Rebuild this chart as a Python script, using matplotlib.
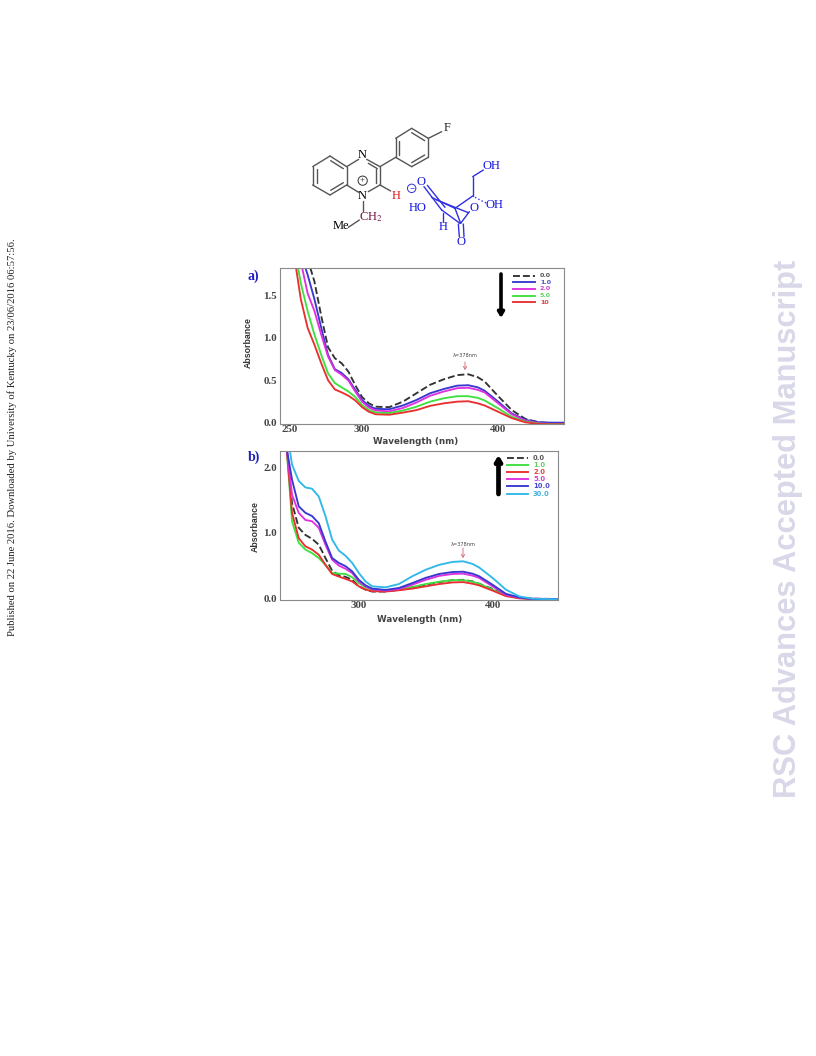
import matplotlib
matplotlib.use("Agg")
import matplotlib.pyplot as plt
from matplotlib.patches import Circle
from matplotlib.ticker import FormatStrFormatter
from matplotlib.transforms import ScaledTranslation

# ---- panel a) data ----
a_wl_common = [300, 305, 310, 320, 330, 340, 350, 360, 370, 378, 385, 390, 400, 410, 420, 430, 440, 448]

a00_wl = [262, 265, 270, 275, 280, 285, 290, 295] + a_wl_common
a00 = [1.83, 1.67, 1.26, 0.89, 0.76, 0.70, 0.60, 0.44,
       0.30, 0.225, 0.185, 0.18, 0.245, 0.345, 0.445, 0.51, 0.56, 0.57, 0.535, 0.485, 0.31, 0.145, 0.04, 0.0, -0.01, -0.012]
a10_wl = [258, 260, 265, 270, 275, 280, 285, 290, 295] + a_wl_common
a10 = [1.85, 1.75, 1.46, 1.12, 0.80, 0.63, 0.585, 0.51, 0.385,
       0.265, 0.195, 0.16, 0.155, 0.20, 0.265, 0.345, 0.395, 0.435, 0.44, 0.415, 0.375, 0.245, 0.105, 0.03, 0.0, -0.004, -0.004]
a20_wl = [256, 260, 265, 270, 275, 280, 285, 290, 295] + a_wl_common
a20 = [1.83, 1.53, 1.32, 1.04, 0.78, 0.62, 0.565, 0.495, 0.365,
       0.245, 0.175, 0.14, 0.13, 0.17, 0.235, 0.315, 0.365, 0.405, 0.41, 0.385, 0.355, 0.225, 0.095, 0.02, -0.012, -0.02, -0.02]
a50_wl = [253, 255, 260, 265, 270, 275, 280, 285, 290, 295] + a_wl_common
a50 = [1.83, 1.65, 1.32, 1.04, 0.80, 0.58, 0.465, 0.415, 0.365, 0.30,
       0.205, 0.145, 0.115, 0.11, 0.14, 0.185, 0.245, 0.285, 0.31, 0.31, 0.29, 0.26, 0.165, 0.065, 0.008, -0.016, -0.024, -0.024]
a100_wl = [251.5, 255, 260, 265, 270, 275, 280, 285, 290, 295] + a_wl_common
a100 = [1.83, 1.46, 1.12, 0.92, 0.70, 0.50, 0.39, 0.355, 0.315, 0.26,
        0.18, 0.125, 0.095, 0.09, 0.115, 0.145, 0.195, 0.225, 0.245, 0.25, 0.225, 0.20, 0.125, 0.05, 0.0, -0.02, -0.024, -0.024]

a_labels = ["0.0", "1.0", "2.0", "5.0", "10"]
a_colors = ["#333333", "#3838d0", "#e030e0", "#40e040", "#e83030"]
a_text_colors = ["#555555", "#5050c8", "#d040d0", "#60d060", "#e04040"]

# ---- panel b) data ----
b_wl = [246, 250, 255, 260, 265, 270, 275, 280, 285, 290, 295, 300, 305, 310, 320, 330, 340,
        350, 360, 370, 378, 385, 390, 400, 410, 420, 430, 448]
b00 = [2.3, 1.46, 1.08, 0.97, 0.91, 0.82, 0.615, 0.42, 0.35, 0.325, 0.28, 0.18, 0.13, 0.10, 0.10, 0.125, 0.165,
       0.205, 0.245, 0.275, 0.28, 0.255, 0.22, 0.14, 0.05, 0.005, -0.01, -0.015]
b10 = [2.3, 1.18, 0.85, 0.745, 0.69, 0.615, 0.51, 0.385, 0.375, 0.37, 0.32, 0.23, 0.165, 0.125, 0.115, 0.135, 0.17,
       0.215, 0.25, 0.275, 0.275, 0.25, 0.22, 0.13, 0.04, 0.0, -0.015, -0.02]
b20 = [2.3, 1.31, 0.92, 0.795, 0.745, 0.665, 0.51, 0.37, 0.33, 0.295, 0.255, 0.18, 0.13, 0.105, 0.10, 0.12, 0.145,
       0.18, 0.215, 0.24, 0.245, 0.22, 0.195, 0.115, 0.03, -0.005, -0.015, -0.02]
b50 = [2.3, 1.59, 1.31, 1.20, 1.18, 1.08, 0.82, 0.59, 0.50, 0.45, 0.385, 0.255, 0.18, 0.135, 0.115, 0.14, 0.205,
       0.28, 0.34, 0.37, 0.375, 0.345, 0.31, 0.18, 0.05, 0.005, -0.01, -0.015]
b100 = [2.3, 1.82, 1.41, 1.31, 1.26, 1.15, 0.87, 0.615, 0.54, 0.49, 0.41, 0.28, 0.195, 0.145, 0.125, 0.155, 0.23,
        0.31, 0.37, 0.40, 0.405, 0.375, 0.335, 0.205, 0.065, 0.01, -0.015, -0.02]
b300 = [2.6, 2.05, 1.80, 1.70, 1.68, 1.56, 1.26, 0.90, 0.73, 0.65, 0.54, 0.385, 0.255, 0.18, 0.165, 0.215, 0.335,
        0.435, 0.51, 0.555, 0.565, 0.525, 0.47, 0.31, 0.13, 0.025, -0.01, -0.02]

b_labels = ["0.0", "1.0", "2.0", "5.0", "10.0", "30.0"]
b_colors = ["#333333", "#40e040", "#e83030", "#e030e0", "#3838d0", "#30b8e8"]
b_text_colors = ["#555555", "#60d060", "#e04040", "#d040d0", "#4848c8", "#40b0e0"]

W, H = 816, 1056
CURVE_LW = 1.35
fig = plt.figure(figsize=(W / 100, H / 100), dpi=100)


def make_axes(left, right, top, bottom):
    # pixel box to a figure axes
    ax = fig.add_axes([left / W, 1 - bottom / H, (right - left) / W, (bottom - top) / H])
    for s in ax.spines.values():
        s.set_color("#8a8a8a")
        s.set_linewidth(0.8)
    ax.tick_params(length=0, labelcolor="#444444")
    ax.tick_params(axis="x", pad=0.5)
    ax.tick_params(axis="y", pad=2)
    return ax


def style_ticks(ax):
    for t in ax.get_xticklabels() + ax.get_yticklabels():
        t.set_family("Liberation Serif")
        t.set_fontweight("bold")
        t.set_fontsize(7.8)


# ---- a) ----
ax_a = make_axes(280, 563.5, 268, 424)
a_curves = [(a00_wl, a00), (a10_wl, a10), (a20_wl, a20), (a50_wl, a50), (a100_wl, a100)]
for (wl, vals), col, lab in zip(a_curves, a_colors, a_labels):
    ax_a.plot(wl, vals, color=col, lw=CURVE_LW, ls="--" if lab == "0.0" else "-", label=lab)
ax_a.set_xlim(239.7, 448)
ax_a.set_ylim(-0.02, 1.83)
ax_a.set_xticks([250, 300, 400])
ax_a.set_yticks([0.0, 0.5, 1.0, 1.5])
style_ticks(ax_a)
# the 250 label sits a little left of where its tick falls
lab250 = ax_a.get_xticklabels()[0]
lab250.set_transform(lab250.get_transform() + ScaledTranslation(-4 / 100, 0, fig.dpi_scale_trans))

# ---- b) ----
ax_b = make_axes(280, 558, 451, 600)
b_series = [b00, b10, b20, b50, b100, b300]
for vals, col, lab in zip(b_series, b_colors, b_labels):
    ax_b.plot(b_wl, vals, color=col, lw=CURVE_LW, ls="--" if lab == "0.0" else "-", label=lab)
ax_b.set_xlim(241, 449)
ax_b.set_ylim(-0.03, 2.26)
ax_b.set_xticks([300, 400])
ax_b.set_yticks([0.0, 1.0, 2.0])
ax_b.yaxis.set_major_formatter(FormatStrFormatter("%.1f"))
style_ticks(ax_b)

# ---- everything else is placed in page pixels ----
pg = fig.add_axes([0, 0, 1, 1], zorder=5)
pg.set_xlim(0, W)
pg.set_ylim(H, 0)
pg.axis("off")
pg.patch.set_alpha(0)

SERIF = "Liberation Serif"
SANS = "Liberation Sans"

# margin texts
pg.text(12.5, 437.5, "Published on 22 June 2016. Downloaded by University of Kentucky on 23/06/2016 06:57:56.",
        rotation=90, ha="center", va="center", family=SERIF, fontsize=7.65, color="#222222")
pg.text(788, 528.5, "RSC Advances Accepted Manuscript", rotation=90, ha="center", va="center",
        family=SANS, fontweight="bold", fontsize=22.2, color="#d8d8e8")

# panel letters
pg.text(247, 276, "a)", color="#2020c0", family=SERIF, fontweight="bold", fontsize=10, va="center")
pg.text(248, 457, "b)", color="#2020c0", family=SERIF, fontweight="bold", fontsize=10, va="center")

# axis titles
for x, y in [(248, 343), (255, 527)]:
    pg.text(x, y, "Absorbance", rotation=90, ha="center", va="center", family=SANS,
            fontweight="bold", fontsize=6.3, color="#333333")
for x, y in [(416, 442), (420, 620)]:
    pg.text(x, y, "Wavelength (nm)", ha="center", va="center", family="DejaVu Sans",
            fontweight="bold", fontsize=6.3, color="#444444")

# hand made legends
a_rows = [275.7, 282.3, 289, 295.7, 302.3]
for y, lab, col, tcol in zip(a_rows, a_labels, a_colors, a_text_colors):
    pg.plot([513, 535], [y, y], color=col, lw=CURVE_LW, ls="--" if lab == "0.0" else "-")
    pg.text(540, y, lab, color=tcol, fontweight="bold", fontsize=4.6, va="center")
b_rows = [458.3, 465.3, 472.3, 479.3, 486.3, 494]
for y, lab, col, tcol in zip(b_rows, b_labels, b_colors, b_text_colors):
    pg.plot([507, 528], [y, y], color=col, lw=CURVE_LW, ls="--" if lab == "0.0" else "-")
    pg.text(533, y, lab, color=tcol, fontweight="bold", fontsize=4.9, va="center")

# big black arrows
pg.annotate("", xy=(501, 318), xytext=(501, 274),
            arrowprops=dict(arrowstyle="-|>,head_width=0.18,head_length=0.3", color="black", lw=2.6, shrinkA=0, shrinkB=0))
pg.annotate("", xy=(498.5, 455), xytext=(498.5, 494),
            arrowprops=dict(arrowstyle="-|>,head_width=0.18,head_length=0.3", color="black", lw=3.4, shrinkA=0, shrinkB=0))

# lambda markers
for x, y0, y1, y2 in [(465, 355.7, 362, 370), (463, 544, 548, 558)]:
    pg.text(x, y0, "λ=378nm", ha="center", va="center", fontsize=3.6, color="#444444")
    pg.annotate("", xy=(x, y2), xytext=(x, y1),
                arrowprops=dict(arrowstyle="->,head_width=0.12,head_length=0.2", color="#d06070", lw=0.6, shrinkA=0, shrinkB=0))


# ---- structure drawing ----
def bonds(segs, col, lw=1.0):
    for x0, y0, x1, y1 in segs:
        pg.plot([300 + x0 / 3, 300 + x1 / 3], [120 + y0 / 3, 120 + y1 / 3], color=col, lw=lw, solid_capstyle="round")


def atom(x, y, s, col, fs=9):
    pg.text(300 + x / 3, 120 + y / 3, s, color=col, family=SERIF, fontsize=fs, ha="center", va="center")


black_bonds = [
    (38, 140, 90, 108), (90, 108, 140, 140), (140, 140, 140, 195), (140, 195, 90, 225), (90, 225, 38, 195), (38, 195, 38, 140),
    (50, 147, 50, 188), (92, 122, 130, 146), (92, 211, 130, 188),
    (140, 140, 176, 118), (200, 118, 240, 140), (205, 130, 232, 146), (240, 140, 240, 195), (228, 148, 228, 188),
    (240, 195, 205, 215), (140, 195, 176, 217),
    (240, 140, 287, 112), (287, 112, 287, 55), (287, 55, 335, 25), (335, 25, 385, 55), (385, 55, 385, 112),
    (385, 112, 335, 140), (335, 140, 287, 112), (298, 105, 298, 62), (335, 38, 374, 62), (374, 105, 335, 128),
    (385, 55, 425, 35), (240, 195, 272, 213), (188, 243, 188, 272), (145, 322, 178, 300),
]
bonds(black_bonds, "#555555")
atom(188, 105, "N", "black")
atom(188, 228, "N", "black")
atom(440, 25, "F", "#222222")
atom(288, 228, "H", "#e01010")
atom(122, 318, "Me", "black")
pg.text(300 + 212 / 3, 120 + 292 / 3, "CH$_2$", color="#701040", family=SERIF, fontsize=9, ha="center", va="center",
        math_fontfamily="stix")
pg.add_patch(Circle((300 + 188 / 3, 120 + 182 / 3), 4.6, fill=False, ec="#333333", lw=0.7))
atom(188, 182, "+", "#222222", 6.5)

blue_bonds = [
    (372, 200, 425, 270), (382, 196, 435, 262), (425, 270, 480, 310), (395, 232, 465, 265), (465, 265, 518, 228),
    (518, 228, 518, 170), (518, 170, 550, 150), (465, 265, 482, 310), (482, 310, 508, 275),
    (475, 312, 478, 350), (490, 312, 492, 350), (428, 278, 428, 305), (410, 240, 505, 278),
]
bonds(blue_bonds, "#3030e0")
pg.plot([300 + 525 / 3, 300 + 560 / 3], [120 + 232 / 3, 120 + 250 / 3], color="#3030e0", lw=1.0, ls=":")
for x, y, s in [(362, 185, "O"), (575, 137, "OH"), (352, 265, "HO"), (583, 255, "OH"),
                (522, 265, "O"), (428, 322, "H"), (482, 365, "O")]:
    atom(x, y, s, "#1010e0")
pg.add_patch(Circle((300 + 335 / 3, 120 + 205 / 3), 4.2, fill=False, ec="#3030e0", lw=0.7))
atom(335, 204, "−", "#2020e0", 6.5)

fig.savefig("out.png", dpi=100)
